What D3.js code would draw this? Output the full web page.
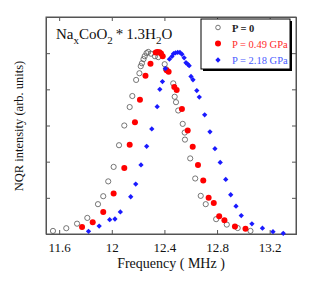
<!DOCTYPE html>
<html>
<head>
<meta charset="utf-8">
<script src="https://cdn.jsdelivr.net/npm/d3@7"></script>
<style>
  body { margin: 0; background: #fff; }
  text { font-family: "Liberation Serif", "DejaVu Serif", serif; }
</style>
</head>
<body>
<svg id="chart" width="311" height="284"></svg>
<script>
// NQR spectra, normalised intensity vs frequency (MHz)
var p0Freq = [11.553, 11.654, 11.736, 11.814, 11.895, 11.935, 11.973, 12.014, 12.055, 12.095,
    12.136, 12.156, 12.185, 12.21, 12.22, 12.229, 12.241, 12.25, 12.264, 12.277, 12.298, 12.328,
    12.353, 12.402, 12.412, 12.467, 12.478, 12.488, 12.505, 12.539, 12.554, 12.556, 12.596,
    12.634, 12.676, 12.714, 12.793, 12.874, 12.957, 13.054];
var p0Int = [0.017, 0.032, 0.057, 0.089, 0.165, 0.209, 0.291, 0.371, 0.491, 0.600,
    0.702, 0.763, 0.852, 0.889, 0.928, 0.944, 0.967, 0.983, 1.0, 1.007, 0.997, 0.983,
    0.978, 0.939, 0.911, 0.833, 0.759, 0.729, 0.683, 0.609, 0.561, 0.522, 0.418,
    0.307, 0.211, 0.165, 0.082, 0.052, 0.033, 0.017];

var p049Freq = [11.774, 11.855, 11.935, 12.014, 12.095, 12.136, 12.176, 12.214, 12.256, 12.294,
    12.334, 12.347, 12.362, 12.374, 12.387, 12.417, 12.432, 12.475, 12.493, 12.533, 12.577,
    12.615, 12.655, 12.695, 12.736, 12.775, 12.816, 12.856, 12.936, 13.016];
var p049Int = [0.039, 0.065, 0.122, 0.224, 0.365, 0.493, 0.618, 0.743, 0.875, 0.941,
    1.003, 1.007, 1.005, 0.998, 0.983, 0.906, 0.897, 0.813, 0.796, 0.691, 0.572,
    0.483, 0.382, 0.296, 0.2, 0.172, 0.098, 0.076, 0.041, 0.029];

var p218Freq = [11.823, 11.904, 11.984, 12.024, 12.065, 12.144, 12.182, 12.222, 12.265, 12.304,
    12.345, 12.365, 12.385, 12.407, 12.438, 12.457, 12.469, 12.484, 12.501, 12.518, 12.533,
    12.55, 12.564, 12.577, 12.588, 12.602, 12.617, 12.646, 12.665, 12.706, 12.746, 12.784,
    12.824, 12.866, 12.904, 12.944, 12.984, 13.065, 13.145, 13.225, 13.303];
var p218Int = [0.015, 0.044, 0.079, 0.083, 0.122, 0.206, 0.276, 0.382, 0.485, 0.581,
    0.704, 0.8, 0.843, 0.915, 0.967, 0.982, 0.997, 1.002, 1.004, 1.004, 0.994,
    0.974, 0.947, 0.939, 0.931, 0.871, 0.853, 0.793, 0.757, 0.659, 0.565, 0.472,
    0.396, 0.302, 0.217, 0.154, 0.102, 0.056, 0.032, 0.013, 0.004];

var xTicks = [11.6, 12, 12.4, 12.8, 13.2];
var yTicks = [0, 0.2, 0.4, 0.6, 0.8, 1.0];
var legendLabels = ["P = 0", "P = 0.49 GPa", "P = 2.18 GPa"];

var svg = d3.select("#chart");
// note: "top" is taken by window.top, so use plot* names
var plotL = 46, plotR = 296, plotT = 17, plotB = 234;

var x = d3.scaleLinear().domain([11.5, 13.4]).range([plotL, plotR]);
var y = d3.scaleLinear().domain([0, 1.2]).range([plotB, plotT]);

function zipPts(fs, vs) {
    return fs.map(function (f, i) { return { f: f, v: vs[i] }; });
}

// axes, ticks pointing inward on all four sides
svg.append("g").attr("transform", "translate(0," + plotB + ")")
    .call(d3.axisBottom(x).tickValues(xTicks).tickSize(-4).tickPadding(9)
        .tickFormat(function (d) { return String(d); }));
svg.append("g").attr("transform", "translate(0," + plotT + ")")
    .call(d3.axisTop(x).tickValues(xTicks).tickSize(-4).tickFormat(""));
svg.append("g").attr("transform", "translate(" + plotL + ",0)")
    .call(d3.axisLeft(y).tickValues(yTicks).tickSize(-4).tickFormat(""));
svg.append("g").attr("transform", "translate(" + plotR + ",0)")
    .call(d3.axisRight(y).tickValues(yTicks).tickSize(-4).tickFormat(""));

svg.selectAll(".domain").attr("stroke", "#555");
svg.selectAll(".tick line").attr("stroke", "#555");
svg.selectAll(".tick text").attr("font-family", "Liberation Serif").attr("font-size", 13).attr("fill", "#111");

svg.append("rect")
    .attr("x", plotL).attr("y", plotT)
    .attr("width", plotR - plotL).attr("height", plotB - plotT)
    .attr("fill", "none").attr("stroke", "#555");

// series
svg.append("g").selectAll("circle").data(zipPts(p0Freq, p0Int)).enter()
    .append("circle")
    .attr("cx", function (d) { return x(d.f); })
    .attr("cy", function (d) { return y(d.v); })
    .attr("r", 2.6)
    .attr("fill", "none").attr("stroke", "#555").attr("stroke-width", 0.8);

svg.append("g").selectAll("circle").data(zipPts(p049Freq, p049Int)).enter()
    .append("circle")
    .attr("cx", function (d) { return x(d.f); })
    .attr("cy", function (d) { return y(d.v); })
    .attr("r", 3)
    .attr("fill", "#ff0000");

// blue marks: small square turned 45 degrees
var diamond = d3.symbol().type(d3.symbolSquare).size(14);
svg.append("g").selectAll("path").data(zipPts(p218Freq, p218Int)).enter()
    .append("path")
    .attr("d", diamond)
    .attr("transform", function (d) { return "translate(" + x(d.f) + "," + y(d.v) + ") rotate(45)"; })
    .attr("fill", "#1a1aff");

// title
var title = svg.append("text").attr("x", 56).attr("y", 39).attr("font-size", 15).attr("fill", "#111");
title.append("tspan").text("Na");
title.append("tspan").attr("dy", 5).attr("font-size", 11).text("x");
title.append("tspan").attr("dy", -5).text("CoO");
title.append("tspan").attr("dy", 5).attr("font-size", 11).text("2");
title.append("tspan").attr("dy", -5).attr("dx", 3).text("*");
title.append("tspan").attr("dx", 3).text("1.3H");
title.append("tspan").attr("dy", 5).attr("font-size", 11).text("2");
title.append("tspan").attr("dy", -5).text("O");

// legend box with drop shadow
var lg = svg.append("g");
lg.append("rect").attr("x", 203).attr("y", 21).attr("width", 89).attr("height", 50).attr("fill", "#000");
lg.append("rect").attr("x", 201).attr("y", 19).attr("width", 89).attr("height", 50)
    .attr("fill", "#fff").attr("stroke", "#000").attr("stroke-width", 1);

var legendY = [27.5, 43.5, 60];
var legendColors = ["#222", "#ff2a2a", "#4a5cff"];
lg.append("circle").attr("cx", 218).attr("cy", legendY[0]).attr("r", 2.3)
    .attr("fill", "none").attr("stroke", "#555").attr("stroke-width", 0.8);
lg.append("circle").attr("cx", 218).attr("cy", legendY[1]).attr("r", 3).attr("fill", "#ff0000");
lg.append("path").attr("d", diamond).attr("transform", "translate(218," + legendY[2] + ") rotate(45)").attr("fill", "#1a1aff");

legendLabels.forEach(function (lab, i) {
    lg.append("text")
        .attr("x", 232).attr("y", legendY[i] + 4)
        .attr("font-size", 10.5)
        .attr("font-weight", i === 0 ? "bold" : "normal")
        .attr("fill", legendColors[i])
        .text(lab);
});

// axis labels
svg.append("text")
    .attr("x", 171).attr("y", 268)
    .attr("text-anchor", "middle").attr("font-size", 14).attr("fill", "#111")
    .text("Frequency ( MHz )");
svg.append("text")
    .attr("transform", "translate(23,126) rotate(-90)")
    .attr("text-anchor", "middle").attr("font-size", 12.5).attr("fill", "#111")
    .text("NQR intensity (arb. units)");
</script>
</body>
</html>
